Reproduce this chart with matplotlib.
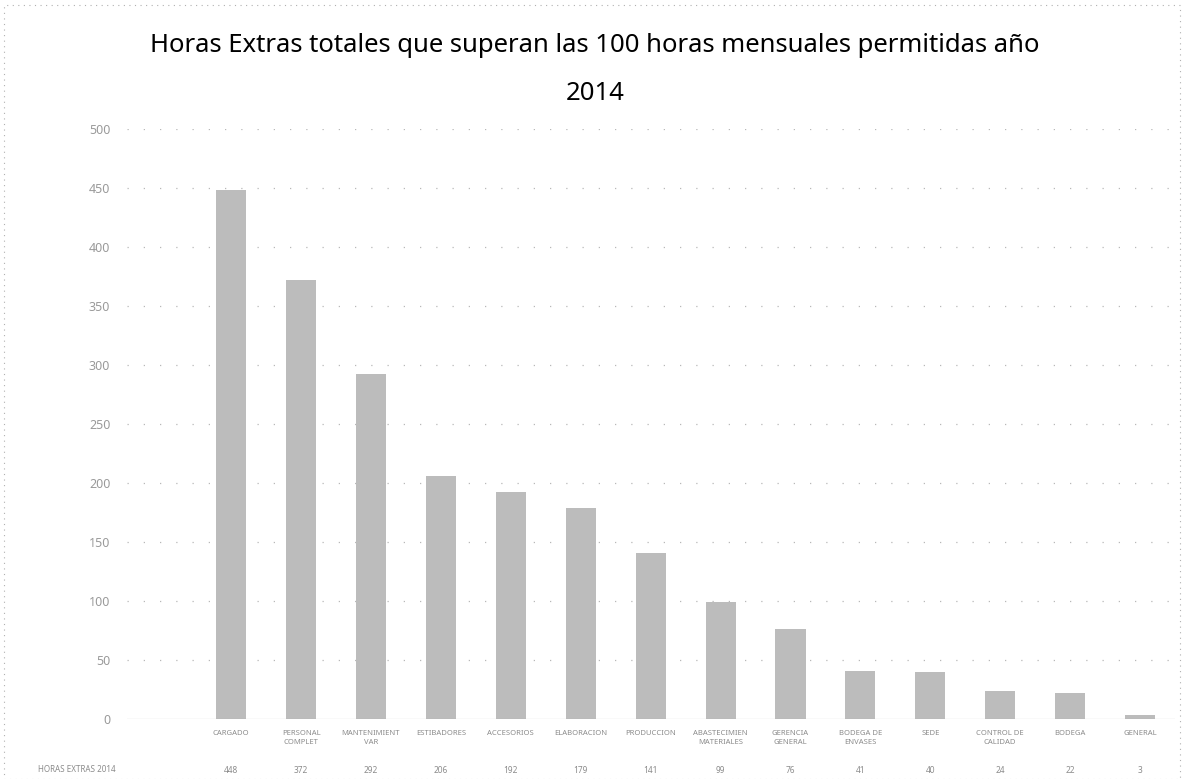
import numpy as np
import matplotlib
matplotlib.use("Agg")
import matplotlib.pyplot as plt
from matplotlib.patches import Rectangle

# Data (labels are barely legible, best guess)
areas = [
    "CARGADO",
    "PERSONAL\nCOMPLET",
    "MANTENIMIENT\nVAR",
    "ESTIBADORES",
    "ACCESORIOS",
    "ELABORACION",
    "PRODUCCION",
    "ABASTECIMIEN\nMATERIALES",
    "GERENCIA\nGENERAL",
    "BODEGA DE\nENVASES",
    "SEDE",
    "CONTROL DE\nCALIDAD",
    "BODEGA",
    "GENERAL",
]
horas_extras = [448, 372, 292, 206, 192, 179, 141, 99, 76, 41, 40, 24, 22, 3]
y_ticks = [0, 50, 100, 150, 200, 250, 300, 350, 400, 450, 500]
row_header = "HORAS EXTRAS 2014"
title_line1 = "Horas Extras totales que superan las 100 horas mensuales permitidas año"
title_line2 = "2014"

W, H = 1184, 779
fig = plt.figure(figsize=(W / 100, H / 100), dpi=100)
plt.rcParams["font.family"] = ["Noto Sans", "DejaVu Sans"]

left, right, bottom, top = 127, 1175, 719, 128.6
ax = fig.add_axes([left / W, 1 - bottom / H, (right - left) / W, (bottom - top) / H])

x = np.arange(len(areas))
ax.bar(x, horas_extras, width=0.43, color="#bcbcbc", edgecolor="none", zorder=2)

ax.set_xlim(-1.49, len(areas) - 0.5)
ax.set_ylim(0, 500)
ax.set_yticks(y_ticks)
ax.set_yticklabels([str(v) for v in y_ticks], fontsize=9, color="#9a9a9a")
ax.tick_params(axis="y", length=0, pad=12)
ax.set_xticks([])

# sparse dotted gridlines
for v in y_ticks[1:]:
    ax.axhline(v, color="#b8b8b8", lw=0.9, linestyle=(0, (1, 12)), zorder=1)

for s in ax.spines.values():
    s.set_visible(False)
ax.axhline(0, color="#a0a0a0", lw=0.8, zorder=3)

# data table below the axis
tr = ax.get_xaxis_transform()
for xi, name in zip(x, areas):
    ax.text(xi, -0.018, name, transform=tr, ha="center", va="top",
            fontsize=5.5, color="#8c8c8c", linespacing=1.5)
for xi, val in zip(x, horas_extras):
    ax.text(xi, -0.088, str(val), transform=tr, ha="center", va="center",
            fontsize=6, color="#8c8c8c")
fig.text(77 / W, 1 - 770 / H, row_header, ha="center", va="center",
         fontsize=5.8, color="#8c8c8c")

# title
fig.text(595 / W, 1 - 46 / H, title_line1, ha="center", va="center",
         fontsize=18.5, color="black")
fig.text(595 / W, 1 - 94 / H, title_line2, ha="center", va="center",
         fontsize=18.5, color="black")

# faint dotted chart border
fig.patches.append(Rectangle((4 / W, 0), 1 - 8 / W, 1 - 5 / H, transform=fig.transFigure,
                             fill=False, edgecolor="#b0b0b0", lw=0.8,
                             linestyle=(0, (1, 4))))

fig.savefig("out.png", dpi=100)
